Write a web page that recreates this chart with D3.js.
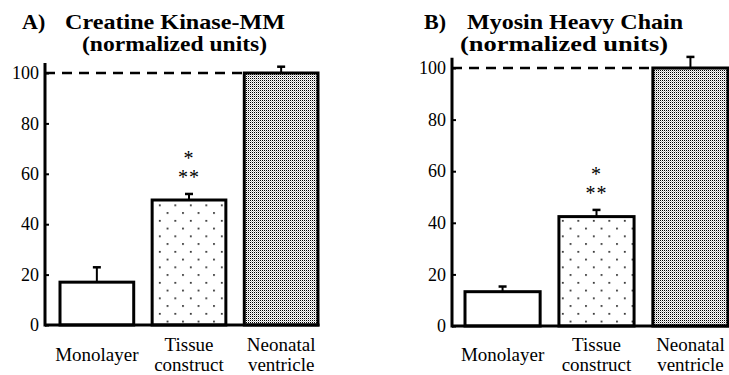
<!DOCTYPE html>
<meta charset="utf-8">
<style>
body { margin: 0; background: #fff; }
</style>
<svg width="729" height="375"></svg>
<script src="https://d3js.org/d3.v7.min.js"></script>
<script>
var categories = [["Monolayer"], ["Tissue", "construct"], ["Neonatal", "ventricle"]];
var ckValues = [17, 49.6, 100];
var ckErrors = [5.9, 2.4, 2.5];
var mhcValues = [13.3, 42.4, 100];
var mhcErrors = [2, 2.6, 4.3];
var yTicks = [0, 20, 40, 60, 80, 100];
var stars = ["**", "*"];   // bottom line first

var serif = "'Liberation Serif'";
var svg = d3.select("svg");
var defs = svg.append("defs");

// sparse staggered dots for tissue construct
var p1 = defs.append("pattern").attr("id", "dots")
  .attr("patternUnits", "userSpaceOnUse").attr("width", 15.5).attr("height", 15.5);
p1.append("rect").attr("width", 15.5).attr("height", 15.5).attr("fill", "#fff");
p1.append("rect").attr("x", 4).attr("y", 3).attr("width", 1.6).attr("height", 1.6).attr("fill", "#000");
p1.append("rect").attr("x", 11.7).attr("y", 10.7).attr("width", 1.6).attr("height", 1.6).attr("fill", "#000");

// fine grey stipple for neonatal ventricle
var p2 = defs.append("pattern").attr("id", "stipple")
  .attr("patternUnits", "userSpaceOnUse").attr("width", 2).attr("height", 2);
p2.append("rect").attr("width", 2).attr("height", 2).attr("fill", "#fff");
p2.append("rect").attr("width", 1).attr("height", 1).attr("fill", "#000");
p2.append("rect").attr("x", 1).attr("y", 1).attr("width", 1).attr("height", 1).attr("fill", "#bbb");

var fills = ["#fff", "url(#dots)", "url(#stipple)"];

function serifText(sel, size, bold) {
  return sel.style("font-family", serif).style("font-size", size + "px")
    .style("font-weight", bold ? "bold" : "normal").style("fill", "#000");
}

function panel(opt) {
  var g = svg.append("g");
  var y = d3.scaleLinear().domain([0, 100]).range([opt.y0, opt.y100]);
  var x = d3.scaleBand().domain(d3.range(3)).range(opt.xr).paddingInner(0.2).paddingOuter(0);

  // title
  serifText(g.append("text").attr("x", opt.tx[0]).attr("y", 29).text(opt.letter), 22, true);
  serifText(g.append("text").attr("x", opt.tx[1]).attr("y", 29)
    .attr("textLength", opt.tw[0]).attr("lengthAdjust", "spacingAndGlyphs").text(opt.title), 22, true);
  serifText(g.append("text").attr("x", opt.tx[2]).attr("y", 51)
    .attr("textLength", opt.tw[1]).attr("lengthAdjust", "spacingAndGlyphs").text("(normalized units)"), 21, true);

  // dashed reference line at 100
  g.append("line")
    .attr("x1", opt.ax).attr("x2", x(2))
    .attr("y1", y(100)).attr("y2", y(100))
    .attr("stroke", "#000").attr("stroke-width", 2.5).attr("stroke-dasharray", "10,7");

  // bars
  g.selectAll("rect.bar").data(opt.values).join("rect")
    .attr("class", "bar")
    .attr("x", function(d, i) { return x(i); })
    .attr("y", function(d) { return y(d); })
    .attr("width", x.bandwidth())
    .attr("height", function(d) { return y(0) - y(d); })
    .attr("fill", function(d, i) { return fills[i]; })
    .attr("stroke", "#000").attr("stroke-width", 3);

  // error bars (upper only)
  var eb = g.selectAll("g.err").data(opt.values).join("g").attr("class", "err");
  eb.append("line")
    .attr("x1", function(d, i) { return x(i) + x.bandwidth() / 2; })
    .attr("x2", function(d, i) { return x(i) + x.bandwidth() / 2; })
    .attr("y1", function(d) { return y(d); })
    .attr("y2", function(d, i) { return y(d + opt.errors[i]); })
    .attr("stroke", "#000").attr("stroke-width", 2);
  eb.append("line")
    .attr("x1", function(d, i) { return x(i) + x.bandwidth() / 2 - 4; })
    .attr("x2", function(d, i) { return x(i) + x.bandwidth() / 2 + 4; })
    .attr("y1", function(d, i) { return y(d + opt.errors[i]); })
    .attr("y2", function(d, i) { return y(d + opt.errors[i]); })
    .attr("stroke", "#000").attr("stroke-width", 2.5);

  // significance marks above tissue construct
  var top = y(opt.values[1] + opt.errors[1]);
  serifText(g.selectAll("text.star").data(stars).join("text")
    .attr("class", "star")
    .attr("text-anchor", "middle")
    .attr("x", x(1) + x.bandwidth() / 2)
    .attr("y", function(d, i) { return top - 10 - i * 19; })
    .attr("letter-spacing", 1)
    .text(function(d) { return d; }), 20, false);

  // axes
  g.append("line").attr("x1", opt.ax).attr("x2", opt.ax)
    .attr("y1", y(0) + 1.5).attr("y2", y(104))
    .attr("stroke", "#000").attr("stroke-width", 3);
  g.append("line").attr("x1", opt.ax).attr("x2", x(2) + x.bandwidth() + 1.5)
    .attr("y1", y(0)).attr("y2", y(0))
    .attr("stroke", "#000").attr("stroke-width", 3);

  var axis = g.append("g").attr("transform", "translate(" + opt.ax + ",0)")
    .call(d3.axisLeft(y).tickValues(yTicks).tickSizeInner(-4).tickSizeOuter(0).tickPadding(6));
  axis.select(".domain").remove();
  axis.selectAll(".tick line").attr("stroke-width", 2);
  serifText(axis.selectAll(".tick text"), 18, false);

  // category labels
  var cl = g.selectAll("text.cat").data(categories).join("text")
    .attr("class", "cat")
    .attr("text-anchor", "middle")
    .attr("x", function(d, i) { return x(i) + x.bandwidth() / 2; })
    .attr("y", function(d) { return d.length === 1 ? 361 : 351; });
  serifText(cl, 19, false);
  cl.selectAll("tspan").data(function(d) { return d; }).join("tspan")
    .attr("x", function() { return d3.select(this.parentNode).attr("x"); })
    .attr("dy", function(d, i) { return i === 0 ? 0 : 20; })
    .text(function(d) { return d; });
}

panel({ letter: "A)", title: "Creatine Kinase-MM", tx: [22, 65, 82], tw: [220, 185],
        values: ckValues, errors: ckErrors,
        ax: 45, xr: [60, 318], y0: 325, y100: 73 });
panel({ letter: "B)", title: "Myosin Heavy Chain", tx: [424, 467, 460], tw: [216, 208],
        values: mhcValues, errors: mhcErrors,
        ax: 452, xr: [465, 728], y0: 326, y100: 68 });
</script>
